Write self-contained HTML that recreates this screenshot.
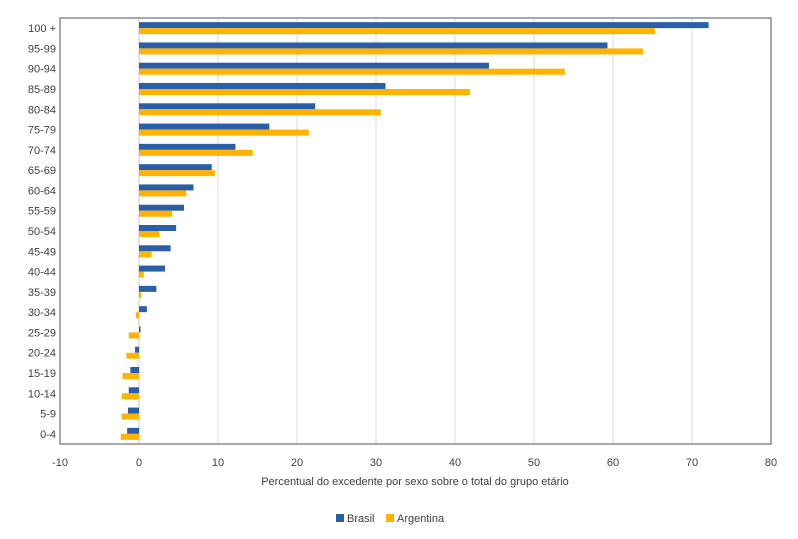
<!DOCTYPE html>
<html><head><meta charset="utf-8"><style>
body{margin:0;background:#fff;font-family:"Liberation Sans",sans-serif}
svg text{font-family:"Liberation Sans",sans-serif;fill:#404040}
</style></head><body>
<svg id="c" width="798" height="534"></svg>
<script>
const categories=["100 +","95-99","90-94","85-89","80-84","75-79","70-74","65-69","60-64","55-59","50-54","45-49","40-44","35-39","30-34","25-29","20-24","15-19","10-14","5-9","0-4"];
const brasil=[72.1,59.3,44.3,31.2,22.3,16.5,12.2,9.2,6.9,5.7,4.7,4.0,3.3,2.2,1.0,0.2,-0.5,-1.1,-1.3,-1.4,-1.5];
const argentina=[65.3,63.8,53.9,41.9,30.6,21.5,14.4,9.6,6.0,4.2,2.6,1.6,0.6,0.3,-0.4,-1.3,-1.6,-2.1,-2.2,-2.2,-2.3];
const ticks=[-10,0,10,20,30,40,50,60,70,80];
const NS="http://www.w3.org/2000/svg",svg=document.getElementById('c');
const L=60,R=771,T=18,B=444;
const x=v=>L+(v+10)/90*(R-L);
const rowH=(B-T)/categories.length;
function mk(t,a,p){const e=document.createElementNS(NS,t);for(const k in a)e.setAttribute(k,a[k]);(p||svg).appendChild(e);return e;}
ticks.forEach((t,i)=>{
 if(t!==-10&&t!==80){const g=mk('line',{x1:x(t),x2:x(t),y1:T,y2:B,stroke:t===0?'#c8c8c8':'#d9d9d9','stroke-width':1});
 
 }
 const tx=mk('text',{x:x(t),y:466,'text-anchor':'middle','font-size':11});tx.textContent=t;
 
 
});
const fr=mk('rect',{x:L,y:T,width:R-L,height:B-T,fill:'none',stroke:'#8c8c8c','stroke-width':1.5});


categories.forEach((c,i)=>{
 const cy=T+rowH*(i+0.5);
 const lb=mk('text',{x:56,y:cy+4,'text-anchor':'end','font-size':11});lb.textContent=c;
 
 
 const b=brasil[i],a=argentina[i];
 const rb=mk('rect',{x:Math.min(x(0),x(b)),y:cy-6,width:Math.abs(x(b)-x(0)),height:6,fill:'#2a5fa8'});
 
 
 const ra=mk('rect',{x:Math.min(x(0),x(a)),y:cy,width:Math.abs(x(a)-x(0)),height:6,fill:'#ffb300'});
 
 
});
const xt=mk('text',{x:415,y:485,'text-anchor':'middle','font-size':11});xt.textContent="Percentual do excedente por sexo sobre o total do grupo etário";


const lg=mk('g',{});


const s1=mk('rect',{x:336,y:514,width:8,height:8,fill:'#2a5fa8'},lg);


const t1=mk('text',{x:347,y:522,'font-size':11},lg);t1.textContent="Brasil";


const s2=mk('rect',{x:386,y:514,width:8,height:8,fill:'#ffb300'},lg);


const t2=mk('text',{x:397,y:522,'font-size':11},lg);t2.textContent="Argentina";


</script>
</body></html>
